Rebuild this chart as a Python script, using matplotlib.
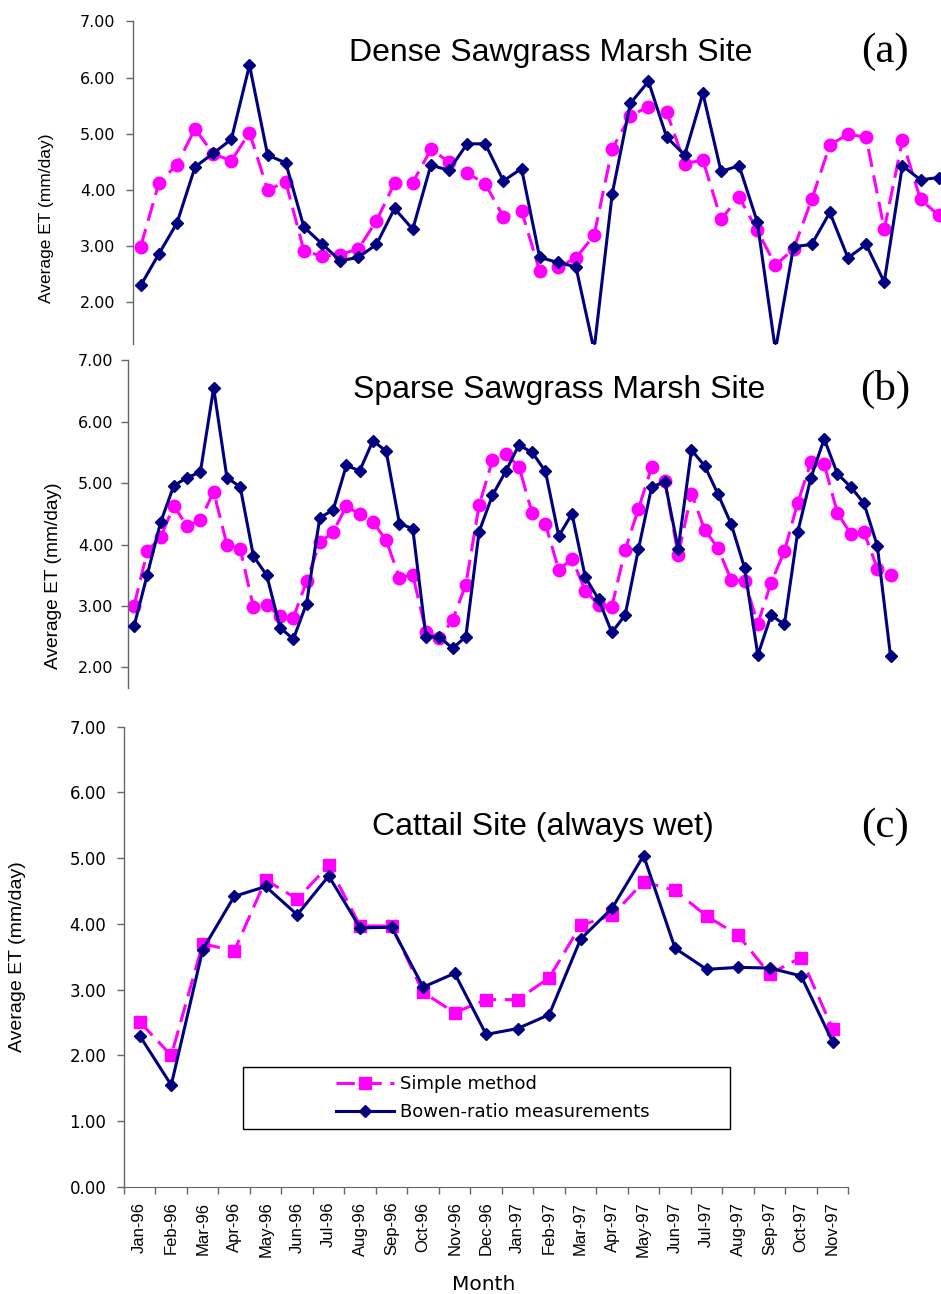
import numpy as np
import matplotlib
matplotlib.use('Agg')
import matplotlib.pyplot as plt
from matplotlib.patches import Rectangle
from matplotlib.ticker import FormatStrFormatter


NAVY    = '#000080'
MAGENTA = '#FF00FF'
AXIS_C  = '#666666'
W, H    = 941, 1294

# ── Dados ─────────────────────────────────────────────────────────────────────
dense_simple = [2.99, 4.12, 4.45, 5.09, 4.64, 4.52, 5.02, 4.00, 4.14, 2.92,
                2.82, 2.85, 2.95, 3.45, 4.12, 4.13, 4.72, 4.50, 4.30, 4.11,
                3.52, 3.63, 2.56, 2.62, 2.79, 3.19, 4.73, 5.32, 5.48, 5.39,
                4.47, 4.53, 3.48, 3.87, 3.28, 2.66, 2.95, 3.83, 4.80, 4.99,
                4.94, 3.30, 4.88, 3.83, 3.55]
dense_bowen  = [2.30, 2.86, 3.41, 4.41, 4.65, 4.90, 6.22, 4.62, 4.48, 3.34,
                3.04, 2.74, 2.80, 3.03, 3.67, 3.30, 4.44, 4.35, 4.82, 4.82,
                4.16, 4.38, 2.80, 2.71, 2.63, 1.15, 3.93, 5.54, 5.93, 4.94,
                4.62, 5.72, 4.33, 4.43, 3.43, 1.15, 2.99, 3.03, 3.60, 2.79,
                3.03, 2.36, 4.43, 4.18, 4.22]

sparse_simple = [3.00, 3.89, 4.12, 4.63, 4.30, 4.40, 4.86, 4.00, 3.93, 2.98,
                 3.02, 2.83, 2.81, 3.40, 4.04, 4.20, 4.63, 4.49, 4.37, 4.07,
                 3.46, 3.51, 2.58, 2.48, 2.77, 3.35, 4.64, 5.37, 5.48, 5.27,
                 4.51, 4.33, 3.59, 3.77, 3.25, 3.02, 2.99, 3.91, 4.58, 5.26,
                 5.03, 3.83, 4.83, 4.24, 3.94, 3.42, 3.41, 2.71, 3.38, 3.89,
                 4.68, 5.34, 5.31, 4.51, 4.18, 4.20, 3.61, 3.51]
sparse_bowen  = [2.67, 3.51, 4.36, 4.96, 5.09, 5.18, 6.55, 5.09, 4.94, 3.81,
                 3.50, 2.65, 2.46, 3.04, 4.44, 4.56, 5.29, 5.20, 5.69, 5.52,
                 4.34, 4.26, 2.50, 2.50, 2.31, 2.50, 4.21, 4.80, 5.19, 5.62,
                 5.50, 5.19, 4.14, 4.50, 3.47, 3.11, 2.57, 2.85, 3.92, 4.94,
                 5.02, 3.93, 5.54, 5.28, 4.82, 4.33, 3.62, 2.20, 2.85, 2.70,
                 4.20, 5.09, 5.72, 5.15, 4.94, 4.67, 3.98, 2.18]

months = ['Jan-96', 'Feb-96', 'Mar-96', 'Apr-96', 'May-96', 'Jun-96',
          'Jul-96', 'Aug-96', 'Sep-96', 'Oct-96', 'Nov-96', 'Dec-96',
          'Jan-97', 'Feb-97', 'Mar-97', 'Apr-97', 'May-97', 'Jun-97',
          'Jul-97', 'Aug-97', 'Sep-97', 'Oct-97', 'Nov-97']
cattail_simple = [2.51, 2.00, 3.70, 3.59, 4.67, 4.38, 4.89, 3.97, 3.97, 2.96,
                  2.65, 2.85, 2.85, 3.18, 3.98, 4.13, 4.64, 4.51, 4.12, 3.83,
                  3.24, 3.49, 2.41]
cattail_bowen  = [2.30, 1.55, 3.61, 4.42, 4.57, 4.14, 4.73, 3.94, 3.95, 3.04,
                  3.25, 2.32, 2.41, 2.62, 3.77, 4.24, 5.04, 3.63, 3.31, 3.34,
                  3.33, 3.21, 2.21]


def fx(px):
    return px / W


def fy(py):
    return 1 - py / H


def rect(left, top, right, bottom):
    return [fx(left), fy(bottom), fx(right) - fx(left), fy(top) - fy(bottom)]


def estilo_y(ax, ymin, yticks, pad, size):
    ax.set_ylim(ymin, 7)
    ax.set_yticks(yticks)
    ax.yaxis.set_major_formatter(FormatStrFormatter('%.2f'))
    for s in ['top', 'right', 'bottom']:
        ax.spines[s].set_visible(False)
    ax.spines['left'].set_color(AXIS_C)
    ax.spines['left'].set_linewidth(1.0)
    ax.tick_params(axis='y', direction='out', length=4.8, width=1.0,
                   color=AXIS_C, pad=pad, labelsize=size,
                   labelfontfamily='DejaVu Sans')


def desenha(ax, x, simple, bowen, mk_simple, ms_simple):
    ax.plot(x, simple, color=MAGENTA, lw=2.2, linestyle=(0, (6, 2.8)),
            marker=mk_simple, ms=ms_simple, mec=MAGENTA, mfc=MAGENTA,
            label='Simple method', zorder=2)
    ax.plot(x, bowen, color=NAVY, lw=2.2, marker='D', ms=6.2,
            mec=NAVY, mfc=NAVY, label='Bowen-ratio measurements', zorder=3)


def texto_painel(fig, title, tx, tbase, tag, tagy):
    fig.text(fx(tx), fy(tbase), title, ha='center', va='baseline',
             family='Liberation Sans', fontsize=23)
    fig.text(fx(885), fy(tagy), tag, ha='center', va='center',
             family='Liberation Serif', fontsize=31)


fig = plt.figure(figsize=(W / 100, H / 100), dpi=100)

# ── (a) Dense sawgrass ────────────────────────────────────────────────────────
ax_a = fig.add_axes(rect(132.7, 21.3, W, 344.5))
xa = np.arange(len(dense_bowen))
desenha(ax_a, xa, dense_simple, dense_bowen, 'o', 9)
ax_a.set_xlim(-0.44, len(xa) - 1 + 0.13)
estilo_y(ax_a, 1.25, np.arange(2, 8), 7.5, 11.5)
ax_a.xaxis.set_visible(False)
texto_painel(fig, 'Dense Sawgrass Marsh Site', 551, 61, '(a)', 52)
fig.text(fx(47), fy(218), 'Average ET (mm/day)', rotation=90, ha='center',
         va='center', family='Liberation Sans', fontsize=12.5)

# ── (b) Sparse sawgrass ───────────────────────────────────────────────────────
ax_b = fig.add_axes(rect(128.3, 360.3, W, 687.7))
xb = np.arange(len(sparse_bowen))
desenha(ax_b, xb, sparse_simple, sparse_bowen, 'o', 9)
ax_b.set_xlim(-0.43, len(xb) - 1 + 3.8)
estilo_y(ax_b, 1.67, np.arange(2, 8), 5.8, 11.5)
ax_b.xaxis.set_visible(False)
texto_painel(fig, 'Sparse Sawgrass Marsh Site', 559.5, 398, '(b)', 389.5)
fig.text(fx(53.5), fy(576), 'Average ET (mm/day)', rotation=90, ha='center',
         va='center', family='Liberation Sans', fontsize=13.8)

# ── (c) Cattail ───────────────────────────────────────────────────────────────
ax_c = fig.add_axes(rect(124, 726.7, 848.3, 1187))
xc = np.arange(len(months))
desenha(ax_c, xc, cattail_simple, cattail_bowen, 's', 9.2)
ax_c.set_xlim(-0.5, len(months) - 0.5)
estilo_y(ax_c, 0, np.arange(0, 8), 7.8, 12)
ax_c.spines['bottom'].set_visible(True)
ax_c.spines['bottom'].set_color(AXIS_C)
ax_c.set_xticks(np.arange(-0.5, len(months)))
ax_c.set_xticklabels([])
ax_c.set_xticks(xc, minor=True)
ax_c.set_xticklabels(months, minor=True, rotation=90, family='Liberation Sans',
                     fontsize=12)
ax_c.tick_params(axis='x', which='major', direction='out', length=4.8,
                 width=1.0, color=AXIS_C)
ax_c.tick_params(axis='x', which='minor', length=0, pad=10.5)
texto_painel(fig, 'Cattail Site (always wet)', 542.5, 835, '(c)', 826.7)
fig.text(fx(18), fy(957), 'Average ET (mm/day)', rotation=90, ha='center',
         va='center', family='Liberation Sans', fontsize=14)
fig.text(fx(484), fy(1284), 'Month', ha='center', va='center',
         family='DejaVu Sans', fontsize=14.5)

# legenda: moldura desenhada à parte para ter a largura do original
fig.add_artist(Rectangle((fx(243.3), fy(1128.7)), fx(730) - fx(243.3),
                         fy(1066.7) - fy(1128.7), transform=fig.transFigure,
                         fill=False, ec='black', lw=1.0))
ax_c.legend(loc='center left', bbox_to_anchor=(fx(327), fy(1098)),
            bbox_transform=fig.transFigure, frameon=False, borderpad=0,
            handlelength=3.2, handletextpad=0.35, labelspacing=0.55,
            numpoints=1, prop={'family': 'DejaVu Sans', 'size': 13})

fig.savefig('out.png', dpi=100)
